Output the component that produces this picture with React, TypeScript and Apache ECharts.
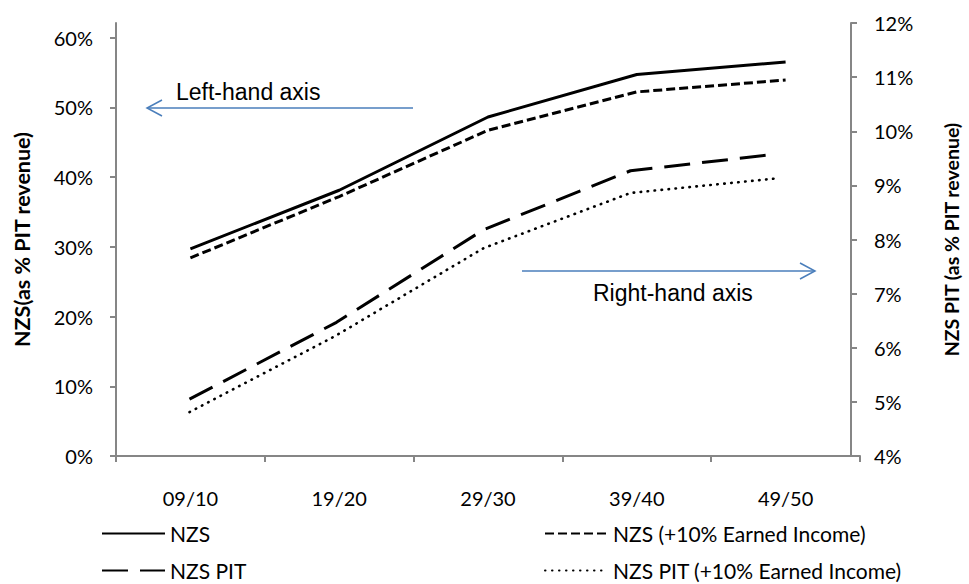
import React, { useEffect, useRef } from "react";
import * as echarts from "echarts";

const categories = ["09/10", "19/20", "29/30", "39/40", "49/50"];
const nzs = [29.7, 38.1, 48.6, 54.7, 56.5];
const nzsEarned = [28.4, 37.2, 46.7, 52.2, 53.9];
const nzsPit = [5.05, 6.47, 8.18, 9.27, 9.58];
const nzsPitEarned = [4.81, 6.23, 7.84, 8.86, 9.13];

const seriesNames = [
  "NZS",
  "NZS (+10% Earned Income)",
  "NZS PIT",
  "NZS PIT (+10% Earned Income)",
];

const FONT = "Lato";
const NOTE_FONT = "Liberation Sans";
const AXIS_COLOR = "#868686";
const ARROW_COLOR = "#4a7ebb";

export default function App() {
  const ref = useRef<HTMLDivElement>(null);

  useEffect(() => {
    if (!ref.current) return;
    const chart = echarts.init(ref.current, undefined, { renderer: "svg" });

    const legendBase = {
      itemWidth: 63,
      itemHeight: 14,
      itemGap: 5,
      padding: 0,
      itemStyle: { opacity: 0 },
      textStyle: { fontFamily: FONT, fontSize: 21, color: "#000" },
      inactiveColor: "#000",
      selectedMode: false,
    };

    const option: any = {
      animation: false,
      backgroundColor: "#fff",
      textStyle: { fontFamily: FONT },
      grid: [
        { left: 116, right: 109, top: 37.5, bottom: 128, containLabel: false },
        { left: 116, right: 109, top: 23, bottom: 128, containLabel: false },
      ],
      legend: [
        { ...legendBase, data: [seriesNames[0]], left: 101, top: 523 },
        { ...legendBase, data: [seriesNames[1]], left: 544, top: 523 },
        { ...legendBase, data: [seriesNames[2]], left: 101, top: 560 },
        { ...legendBase, data: [seriesNames[3]], left: 544, top: 560 },
      ],
      xAxis: [
        {
          type: "category",
          gridIndex: 0,
          data: categories,
          boundaryGap: true,
          axisLine: { show: true, lineStyle: { color: AXIS_COLOR, width: 2 } },
          axisTick: { show: true, inside: false, length: 6, lineStyle: { color: AXIS_COLOR, width: 2 } },
          axisLabel: { margin: 32, fontFamily: FONT, fontSize: 20, color: "#000" },
          splitLine: { show: false },
        },
        {
          type: "category",
          gridIndex: 1,
          data: categories,
          boundaryGap: true,
          show: false,
        },
      ],
      yAxis: [
        {
          type: "value",
          gridIndex: 0,
          position: "left",
          min: 0,
          max: 60,
          interval: 10,
          axisLine: { show: false },
          axisTick: { show: true, length: 6, lineStyle: { color: AXIS_COLOR, width: 2 } },
          axisLabel: {
            margin: 23,
            fontFamily: FONT,
            fontSize: 20,
            color: "#000",
            formatter: (v: number) => `${v}%`,
          },
          splitLine: { show: false },
        },
        {
          type: "value",
          gridIndex: 1,
          position: "right",
          min: 4,
          max: 12,
          interval: 1,
          name: "NZS PIT (as % PIT revenue)",
          nameLocation: "middle",
          nameRotate: 90,
          nameGap: 90,
          nameTextStyle: { fontFamily: FONT, fontSize: 19.5, fontWeight: "bold", color: "#000" },
          axisLine: { show: true, lineStyle: { color: AXIS_COLOR, width: 2 } },
          axisTick: { show: true, length: 6, lineStyle: { color: AXIS_COLOR, width: 2 } },
          axisLabel: {
            margin: 23,
            fontFamily: FONT,
            fontSize: 20,
            color: "#000",
            formatter: (v: number) => `${v}%`,
          },
          splitLine: { show: false },
        },
        {
          type: "value",
          gridIndex: 1,
          position: "left",
          min: 4,
          max: 12,
          interval: 1,
          name: "NZS(as % PIT revenue)",
          nameLocation: "middle",
          nameRotate: 90,
          nameGap: 83,
          nameTextStyle: { fontFamily: FONT, fontSize: 21.5, fontWeight: "bold", color: "#000" },
          axisLine: { show: true, lineStyle: { color: AXIS_COLOR, width: 2 } },
          axisTick: { show: false },
          axisLabel: { show: false },
          splitLine: { show: false },
        },
      ],
      series: [
        {
          name: seriesNames[0],
          type: "line",
          xAxisIndex: 0,
          yAxisIndex: 0,
          data: nzs,
          symbol: "none",
          color: "#000",
          lineStyle: { color: "#000", width: 3, type: "solid" },
        },
        {
          name: seriesNames[1],
          type: "line",
          xAxisIndex: 0,
          yAxisIndex: 0,
          data: nzsEarned,
          symbol: "none",
          color: "#000",
          lineStyle: { color: "#000", width: 3, type: [9, 4] },
        },
        {
          name: seriesNames[2],
          type: "line",
          xAxisIndex: 1,
          yAxisIndex: 1,
          data: nzsPit,
          symbol: "none",
          color: "#000",
          lineStyle: { color: "#000", width: 3, type: [26, 12] },
        },
        {
          name: seriesNames[3],
          type: "line",
          xAxisIndex: 1,
          yAxisIndex: 1,
          data: nzsPitEarned,
          symbol: "none",
          color: "#000",
          lineStyle: { color: "#000", width: 2.6, type: [0.5, 6.5], cap: "round" },
        },
      ],
      graphic: [
        {
          type: "text",
          left: 176,
          top: 80,
          style: { text: "Left-hand axis", fontFamily: NOTE_FONT, fontSize: 23, fill: "#000" },
        },
        {
          type: "line",
          shape: { x1: 413, y1: 108, x2: 147, y2: 108 },
          style: { stroke: ARROW_COLOR, lineWidth: 1.5 },
        },
        {
          type: "polyline",
          shape: { points: [[162, 100], [147, 108], [162, 116]] },
          style: { stroke: ARROW_COLOR, lineWidth: 1.5, fill: null },
        },
        {
          type: "text",
          left: 593,
          top: 281,
          style: { text: "Right-hand axis", fontFamily: NOTE_FONT, fontSize: 23, fill: "#000" },
        },
        {
          type: "line",
          shape: { x1: 522, y1: 271, x2: 815, y2: 271 },
          style: { stroke: ARROW_COLOR, lineWidth: 1.5 },
        },
        {
          type: "polyline",
          shape: { points: [[800, 263], [815, 271], [800, 279]] },
          style: { stroke: ARROW_COLOR, lineWidth: 1.5, fill: null },
        },
      ],
    };

    chart.setOption(option);
    return () => chart.dispose();
  }, []);

  return (
    <div
      ref={ref}
      style={{ position: "absolute", left: 0, top: 0, width: 969, height: 584, background: "#fff" }}
    />
  );
}
